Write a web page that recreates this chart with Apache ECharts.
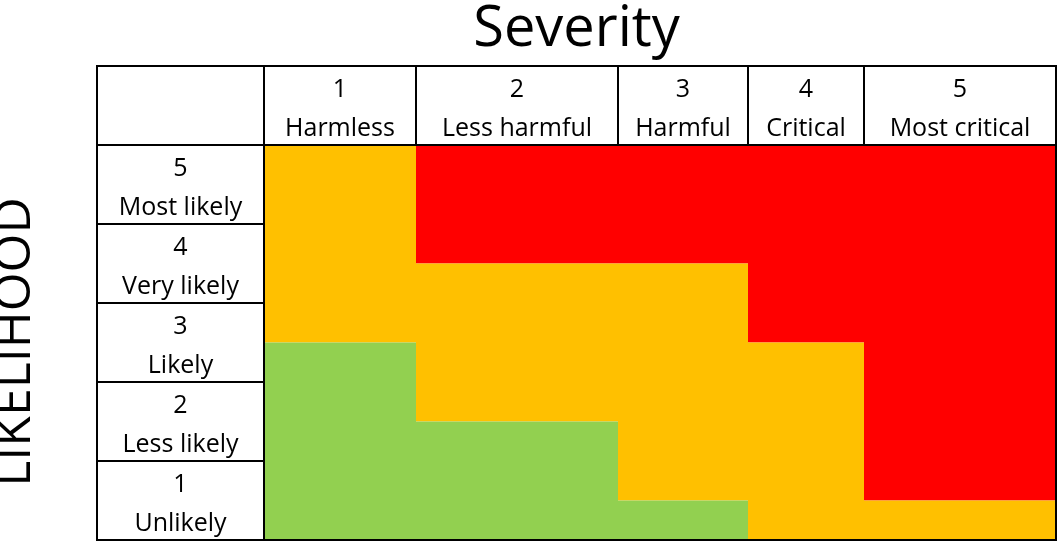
<!DOCTYPE html>
<html>
<head>
<meta charset="utf-8">
<script src="https://cdn.jsdelivr.net/npm/echarts@6/dist/echarts.min.js"></script>
<style>
  html, body { margin: 0; padding: 0; background: #ffffff; }
  #chart { width: 1059px; height: 541px; }
</style>
</head>
<body>
<div id="chart"></div>
<script>
// ---- data ----
const severityNums = ['1', '2', '3', '4', '5'];
const severityLabels = ['Harmless', 'Less harmful', 'Harmful', 'Critical', 'Most critical'];
const likelihoodNums = ['5', '4', '3', '2', '1'];
const likelihoodLabels = ['Most likely', 'Very likely', 'Likely', 'Less likely', 'Unlikely'];
// risk level per half-row, top (likelihood 5) to bottom (likelihood 1): 1 = low, 2 = medium, 3 = high
const riskHarmless     = [2, 2, 2, 2, 2, 1, 1, 1, 1, 1];
const riskLessHarmful  = [3, 3, 3, 2, 2, 2, 2, 1, 1, 1];
const riskHarmful      = [3, 3, 3, 2, 2, 2, 2, 2, 2, 1];
const riskCritical     = [3, 3, 3, 3, 3, 2, 2, 2, 2, 2];
const riskMostCritical = [3, 3, 3, 3, 3, 3, 3, 3, 3, 2];

// ---- layout / style ----
const colWidths = [167, 152, 202, 130, 116, 192];
const levelColors = { 1: '#92D050', 2: '#FFC000', 3: '#FF0000' };
const cellFont = '25px "Open Sans"';
const textShift = 4;

const edges = [0];
colWidths.forEach(w => edges.push(edges[edges.length - 1] + w));
const totalW = edges[edges.length - 1];

const riskByColumn = [riskHarmless, riskLessHarmful, riskHarmful, riskCritical, riskMostCritical];
// merge consecutive equal half-rows into runs: [col, startRow, endRow, level]
const fillData = [];
riskByColumn.forEach((col, c) => {
  let start = 0;
  for (let r = 1; r <= col.length; r++) {
    if (r === col.length || col[r] !== col[start]) {
      fillData.push([c, start, r, col[start]]);
      start = r;
    }
  }
});

const headerData = [];
for (let c = 0; c <= severityNums.length; c++) headerData.push([c, 0]);
for (let r = 1; r <= likelihoodNums.length; r++) headerData.push([0, r]);

const chart = echarts.init(document.getElementById('chart'), null, { renderer: 'canvas' });

chart.setOption({
  backgroundColor: '#ffffff',
  animation: false,
  grid: { left: 97, top: 66, width: 959, height: 474, outerBoundsMode: 'none', containLabel: false },
  xAxis: {
    type: 'value', position: 'top', min: 0, max: totalW,
    axisLine: { show: false }, axisTick: { show: false }, axisLabel: { show: false }, splitLine: { show: false },
    name: 'Severity', nameLocation: 'middle', nameGap: 8,
    nameTextStyle: { fontFamily: 'Open Sans', fontSize: 56, color: '#000000' }
  },
  yAxis: {
    type: 'value', min: 0, max: 12, inverse: true,
    axisLine: { show: false }, axisTick: { show: false }, axisLabel: { show: false }, splitLine: { show: false },
    name: 'LIKELIHOOD', nameLocation: 'middle', nameGap: 56, nameRotate: 90,
    nameTextStyle: { fontFamily: 'Open Sans', fontSize: 50, color: '#000000', padding: [0, 78, 0, 0] }
  },
  series: [
    {
      type: 'custom',
      name: 'risk',
      data: fillData,
      z: 1,
      renderItem: function (params, api) {
        const c = api.value(0), r0 = api.value(1), r1 = api.value(2), lvl = api.value(3);
        const p0 = api.coord([edges[c + 1], 2 + r0]);
        const p1 = api.coord([edges[c + 2], 2 + r1]);
        return {
          type: 'rect',
          shape: { x: p0[0], y: p0[1], width: p1[0] - p0[0], height: p1[1] - p0[1] },
          style: { fill: levelColors[lvl] }
        };
      }
    },
    {
      type: 'custom',
      name: 'headers',
      data: headerData,
      z: 2,
      renderItem: function (params, api) {
        const c = api.value(0), r = api.value(1);
        const y0 = r === 0 ? 0 : 2 * r;
        const p0 = api.coord([edges[c], y0]);
        const p1 = api.coord([edges[c + 1], y0 + 2]);
        const pm = api.coord([edges[c], y0 + 1]);
        let num = '', lab = '';
        if (r === 0 && c > 0) { num = severityNums[c - 1]; lab = severityLabels[c - 1]; }
        if (c === 0 && r > 0) { num = likelihoodNums[r - 1]; lab = likelihoodLabels[r - 1]; }
        const cx = (p0[0] + p1[0]) / 2;
        const h = (p1[1] - p0[1]) / 2;
        return {
          type: 'group',
          children: [
            {
              type: 'rect',
              shape: { x: p0[0], y: p0[1], width: p1[0] - p0[0], height: p1[1] - p0[1] },
              style: { fill: '#ffffff', stroke: '#000000', lineWidth: 2 }
            },
            {
              type: 'text',
              style: { text: num, x: cx, y: p0[1] + h / 2 + textShift, align: 'center', verticalAlign: 'middle', font: cellFont, fill: '#000000' }
            },
            {
              type: 'text',
              style: { text: lab, x: cx, y: pm[1] + h / 2 + textShift, align: 'center', verticalAlign: 'middle', font: cellFont, fill: '#000000' }
            }
          ]
        };
      }
    },
    {
      type: 'custom',
      name: 'frame',
      data: [[0]],
      z: 3,
      renderItem: function (params, api) {
        const p0 = api.coord([0, 0]);
        const p1 = api.coord([totalW, 12]);
        return {
          type: 'rect',
          shape: { x: p0[0], y: p0[1], width: p1[0] - p0[0], height: p1[1] - p0[1] },
          style: { fill: 'none', stroke: '#000000', lineWidth: 2 }
        };
      }
    }
  ]
});
</script>
</body>
</html>
